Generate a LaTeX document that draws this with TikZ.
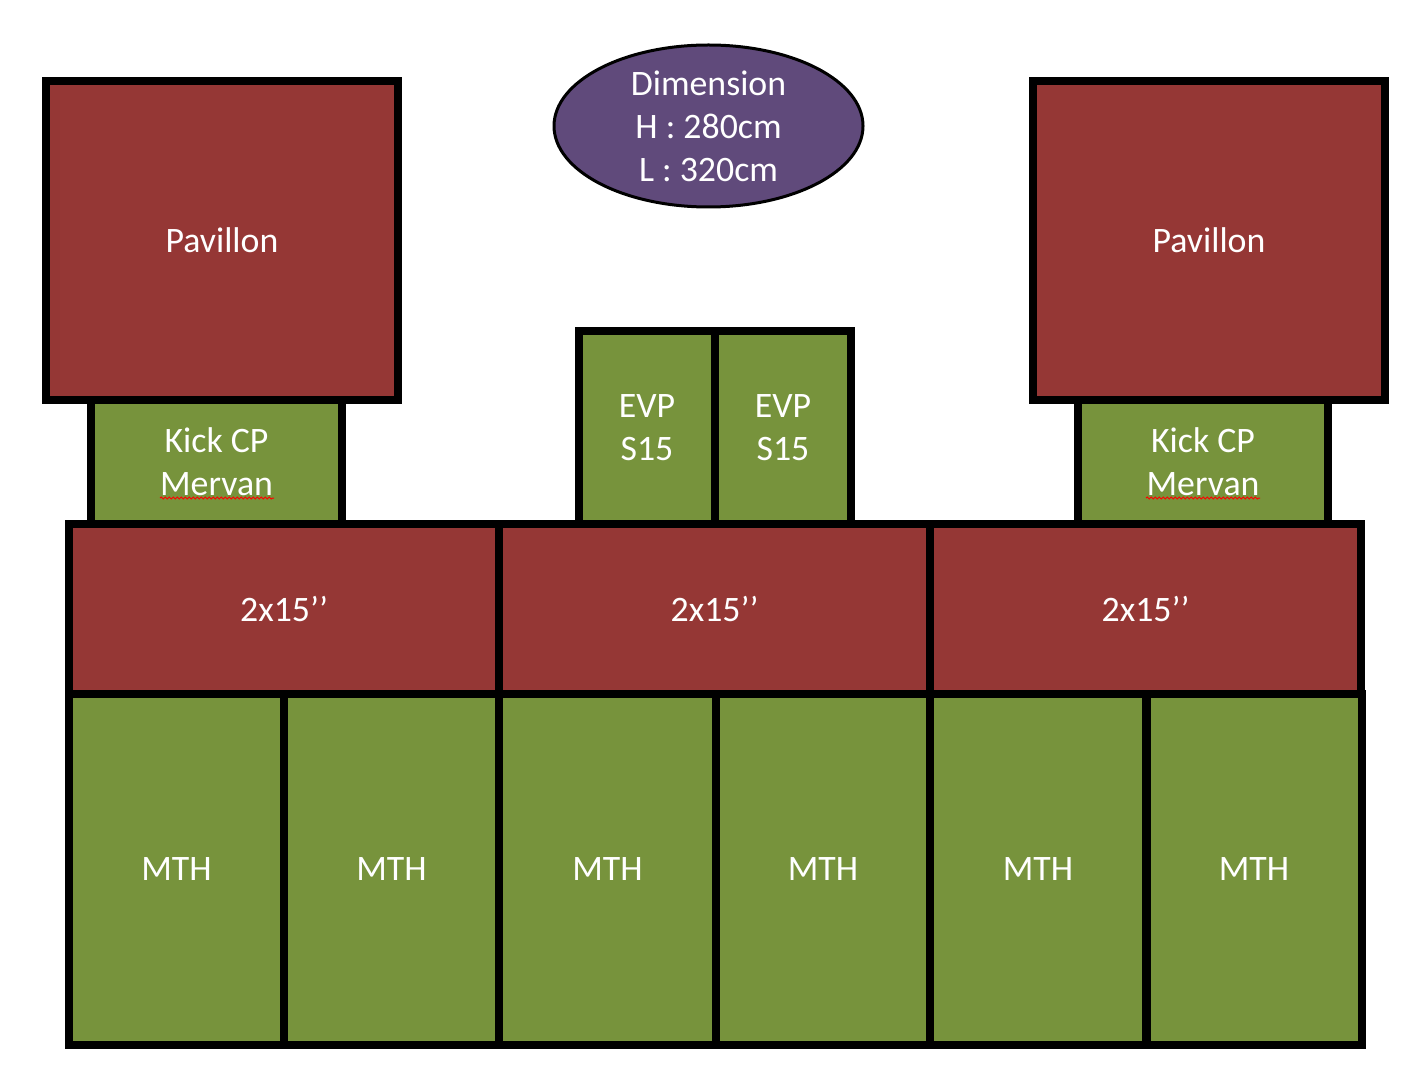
\documentclass[tikz,border=0pt]{standalone}
\usepackage{fontspec}
\setmainfont{Carlito}
\usepackage{xcolor}
\usetikzlibrary{shapes.geometric, decorations.pathmorphing}

\definecolor{boxred}{HTML}{953735}
\definecolor{boxgreen}{HTML}{77933C}
\definecolor{dimpurple}{HTML}{604A7B}

\begin{document}
\begin{tikzpicture}[x=0.5pt, y=-0.5pt,
        every node/.style={text=white, font=\fontsize{17.9}{21.5}\selectfont, align=center, inner sep=0pt},
        block/.style={rectangle, draw=black, line width=4pt},
        redblock/.style={block, fill=boxred},
        greenblock/.style={block, fill=boxgreen},
        spell/.style={red, line width=0.5pt, decorate, decoration={snake, amplitude=0.5pt, segment length=2pt}}]
        \useasboundingbox (0,0) rectangle (1427,1069);

        % kick boxes first, pavillons sit over them
        \node[greenblock, minimum width=125.5pt, minimum height=62pt] (kickL) at (216.5, 462) {Kick CP\\Mervan};
        \node[greenblock, minimum width=125pt, minimum height=62pt] (kickR) at (1203, 462) {Kick CP\\Mervan};
        \node[redblock, minimum width=176pt, minimum height=159.5pt] (pavL) at (222, 240.5) {Pavillon};
        \node[redblock, minimum width=176pt, minimum height=159.5pt] (pavR) at (1209, 240.5) {Pavillon};

        \node[ellipse, draw=black, line width=1.5pt, fill=dimpurple, minimum width=154.5pt, minimum height=81pt] (dim) at (708.5, 126) {Dimension\\H : 280cm\\L : 320cm};

        \node[greenblock, minimum width=68pt, minimum height=96.5pt] (evpA) at (647, 427.5) {EVP\\S15};
        \node[greenblock, minimum width=68pt, minimum height=96.5pt] (evpB) at (783, 427.5) {EVP\\S15};

        \node[redblock, minimum width=215pt, minimum height=85pt] (subA) at (284, 609) {2x15’’};
        \node[redblock, minimum width=215.5pt, minimum height=85pt] (subB) at (714.5, 609) {2x15’’};
        \node[redblock, minimum width=215.5pt, minimum height=85pt] (subC) at (1145.5, 609) {2x15’’};

        \node[greenblock, minimum width=107.5pt, minimum height=175.5pt] (mthA) at (176.5, 869.5) {MTH};
        \node[greenblock, minimum width=107.5pt, minimum height=175.5pt] (mthB) at (391.5, 869.5) {MTH};
        \node[greenblock, minimum width=108.5pt, minimum height=175.5pt] (mthC) at (607.5, 869.5) {MTH};
        \node[greenblock, minimum width=107pt, minimum height=175.5pt] (mthD) at (823, 869.5) {MTH};
        \node[greenblock, minimum width=108pt, minimum height=175.5pt] (mthE) at (1038, 869.5) {MTH};
        \node[greenblock, minimum width=107.5pt, minimum height=175.5pt] (mthF) at (1254, 869.5) {MTH};

        \coordinate (sqLa) at (160, 498);
        \coordinate (sqLb) at (274, 498);
        \coordinate (sqRa) at (1146, 498);
        \coordinate (sqRb) at (1260, 498);
        \draw[spell] (sqLa) -- (sqLb);
        \draw[spell] (sqRa) -- (sqRb);
\end{tikzpicture}
\end{document}
